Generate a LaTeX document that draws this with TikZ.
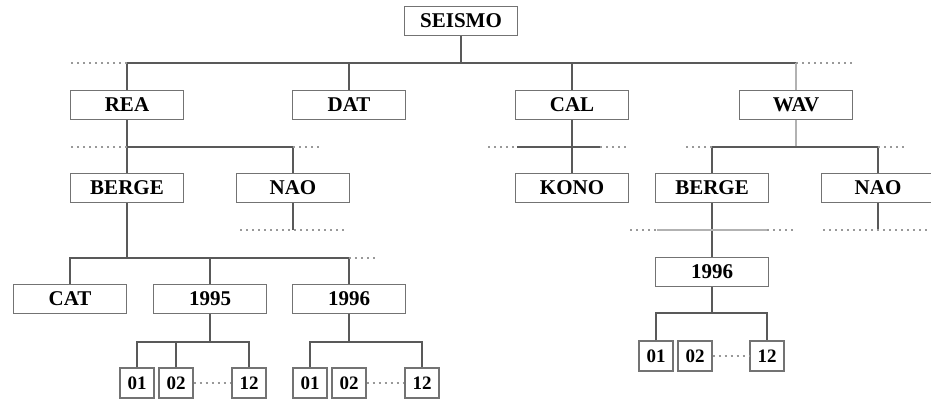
\documentclass[tikz,border=0pt]{standalone}
\usepackage{fontspec}
\setmainfont{Liberation Serif}
\usetikzlibrary{positioning}

\begin{document}
\begin{tikzpicture}
[x=1pt,y=-1pt,
 dir/.style={draw=black!55,line width=1.2pt,fill=white,
             minimum width=113pt,minimum height=29pt,inner sep=0pt,
             font=\fontsize{21}{21}\selectfont\bfseries},
 mon/.style={dir,minimum width=34pt,minimum height=30pt,
             font=\fontsize{19}{19}\selectfont\bfseries},
 link/.style={draw=black!65,line width=1.2pt},
 pale/.style={draw=black!30,line width=1.8pt},
 more/.style={draw=black!40,line width=1.2pt,dash pattern=on 2pt off 4pt}]
\useasboundingbox (0,0) rectangle (931,403);

% directories
\node[dir] (seismo) at (461,21) {SEISMO};
\node[dir] (rea) at (127,105) {REA};
\node[dir] (dat) at (349,105) {DAT};
\node[dir] (cal) at (572,105) {CAL};
\node[dir] (wav) at (796,105) {WAV};
\node[dir] (reaberge) at (127,188) {BERGE};
\node[dir] (reanao) at (293,188) {NAO};
\node[dir] (kono) at (572,188) {KONO};
\node[dir] (wavberge) at (712,188) {BERGE};
\node[dir] (wavnao) at (878,188) {NAO};
\node[dir] (cat) at (70,299) {CAT};
\node[dir] (y95) at (210,299) {1995};
\node[dir] (y96) at (349,299) {1996};
\node[dir] (wavy96) at (712,272) {1996};

% months
\node[mon] (m95a) at (137,383) {01};
\node[mon] (m95b) at (176,383) {02};
\node[mon] (m95l) at (249,383) {12};
\node[mon] (m96a) at (310,383) {01};
\node[mon] (m96b) at (349,383) {02};
\node[mon] (m96l) at (422,383) {12};
\node[mon] (wm96a) at (656,356) {01};
\node[mon] (wm96b) at (695,356) {02};
\node[mon] (wm96l) at (767,356) {12};

% bus levels
\coordinate (bus0) at (0,63);
\coordinate (bus1) at (0,147);
\coordinate (bus2) at (0,230);
\coordinate (bus3) at (0,258);
\coordinate (bus5) at (0,313);
\coordinate (bus4) at (0,342);

% top level
\draw[link] (seismo) -- (seismo |- bus0);
\draw[link] (rea |- bus0) -- (wav |- bus0);
\foreach \n in {rea,dat,cal}
  \draw[link] (\n) -- (\n |- bus0);
\draw[pale] (wav) -- (wav |- bus0);
\draw[more] (rea |- bus0) -- ++(-57,0);
\draw[more] (wav |- bus0) -- ++(57,0);

% REA
\draw[link] (rea) -- (reaberge);
\draw[link] (reaberge |- bus1) -- (reanao |- bus1) -- (reanao);
\draw[more] (reaberge |- bus1) -- ++(-57,0);
\draw[more] (reanao |- bus1) -- ++(29,0);
\draw[link] (reanao) -- (reanao |- bus2);
\draw[more] (reanao |- bus2) ++(-53,0) -- ++(107,0);

% CAL
\draw[link] (cal) -- (kono);
\draw[more] (cal |- bus1) ++(-84,0) -- ++(29,0);
\draw[link] (cal |- bus1) ++(-55,0) -- ++(83,0);
\draw[more] (cal |- bus1) ++(28,0) -- ++(27,0);

% WAV
\draw[pale] (wav) -- (wav |- bus1);
\draw[link] (wavberge) -- (wavberge |- bus1) -- (wavnao |- bus1) -- (wavnao);
\draw[more] (wavberge |- bus1) -- ++(-28,0);
\draw[more] (wavnao |- bus1) -- ++(29,0);
\draw[link] (wavberge) -- (wavy96);
\draw[pale] (wavberge |- bus2) ++(-55,0) -- ++(110,0);
\draw[more] (wavberge |- bus2) ++(-82,0) -- ++(27,0);
\draw[more] (wavberge |- bus2) ++(55,0) -- ++(26,0);
\draw[link] (wavnao) -- (wavnao |- bus2);
\draw[more] (wavnao |- bus2) ++(-55,0) -- ++(110,0);

% REA/BERGE
\draw[link] (reaberge) -- (reaberge |- bus3);
\draw[link] (cat) -- (cat |- bus3) -- (y96 |- bus3) -- (y96);
\draw[link] (y95) -- (y95 |- bus3);
\draw[more] (y96 |- bus3) -- ++(28,0);

% years
\draw[link] (y95) -- (y95 |- bus4);
\draw[link] (m95a) -- (m95a |- bus4) -- (m95l |- bus4) -- (m95l);
\draw[link] (m95b) -- (m95b |- bus4);
\draw[more] (m95b) -- (m95l);
\draw[link] (y96) -- (y96 |- bus4);
\draw[link] (m96a) -- (m96a |- bus4) -- (m96l |- bus4) -- (m96l);
\draw[more] (m96b) -- (m96l);
\draw[link] (wavy96) -- (wavy96 |- bus5);
\draw[link] (wm96a) -- (wm96a |- bus5) -- (wm96l |- bus5) -- (wm96l);
\draw[more] (wm96b) -- (wm96l);
\end{tikzpicture}
\end{document}
